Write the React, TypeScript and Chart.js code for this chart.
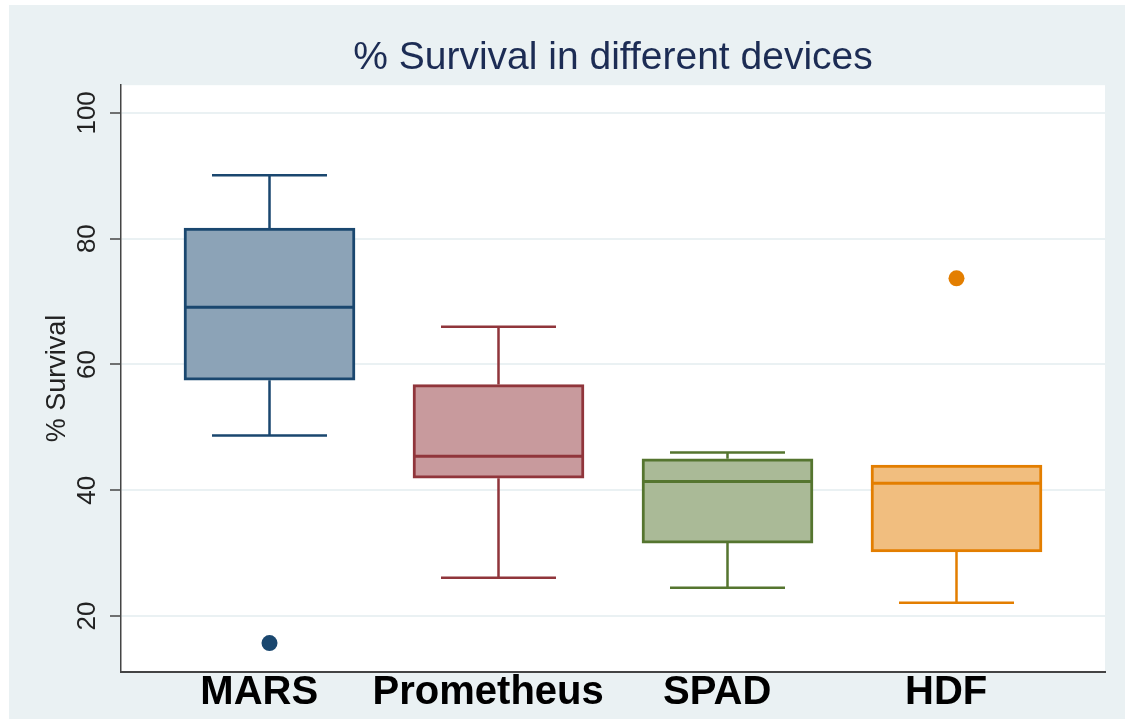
import React, { useEffect, useRef } from "react";
import { Chart, registerables } from "chart.js";

Chart.register(...registerables);

// ---- data ----
const CATEGORIES = ["MARS", "Prometheus", "SPAD", "HDF"];
const WHISKER_LOW = [48.7, 26.1, 24.5, 22.1];
const Q1 = [57.5, 41.9, 31.6, 30.2];
const MEDIAN = [69.1, 45.4, 41.4, 41.1];
const Q3 = [81.7, 56.8, 45.0, 44.0];
const WHISKER_HIGH = [90.1, 66.0, 46.0, 44.0];
const OUTLIER_GROUP = [0, 3];
const OUTLIER_VALUE = [15.7, 73.7];
const Y_TICKS = [20, 40, 60, 80, 100];

// ---- styles ----
const LINE_COLORS = ["#1a476f", "#90353b", "#55752f", "#e37e00"];
const FILL_COLORS = ["#8ca3b7", "#c89a9d", "#aaba97", "#f1be7f"];
const OUTER_BG = "#eaf1f3";
const BOX_WIDTH = 171;
const CAP_WIDTH = 115;
const LABEL_SHIFT = -0.045;

const bgPlugin = {
  id: "bgPlugin",
  beforeDraw(chart: any) {
    const { ctx, chartArea, width, height } = chart;
    ctx.save();
    ctx.fillStyle = "#ffffff";
    ctx.fillRect(0, 0, width, height);
    ctx.fillStyle = OUTER_BG;
    ctx.fillRect(9, 5, width - 9, height - 5);
    ctx.fillStyle = "#ffffff";
    ctx.fillRect(chartArea.left, chartArea.top, chartArea.right - chartArea.left, chartArea.bottom - chartArea.top);
    ctx.restore();
  },
};

const whiskerPlugin = {
  id: "whiskerPlugin",
  beforeDatasetsDraw(chart: any) {
    const { ctx, scales } = chart;
    const xs = scales.x;
    const ys = scales.y;
    ctx.save();
    ctx.lineWidth = 2.5;
    CATEGORIES.forEach((_, i) => {
      const cx = xs.getPixelForValue(i);
      ctx.strokeStyle = LINE_COLORS[i];
      const yHi = ys.getPixelForValue(WHISKER_HIGH[i]);
      const yQ3 = ys.getPixelForValue(Q3[i]);
      const yQ1 = ys.getPixelForValue(Q1[i]);
      const yLo = ys.getPixelForValue(WHISKER_LOW[i]);
      ctx.beginPath();
      if (WHISKER_HIGH[i] > Q3[i]) {
        ctx.moveTo(cx, yQ3);
        ctx.lineTo(cx, yHi);
        ctx.moveTo(cx - CAP_WIDTH / 2, yHi);
        ctx.lineTo(cx + CAP_WIDTH / 2, yHi);
      }
      if (WHISKER_LOW[i] < Q1[i]) {
        ctx.moveTo(cx, yQ1);
        ctx.lineTo(cx, yLo);
        ctx.moveTo(cx - CAP_WIDTH / 2, yLo);
        ctx.lineTo(cx + CAP_WIDTH / 2, yLo);
      }
      ctx.stroke();
    });
    ctx.restore();
  },
  afterDatasetsDraw(chart: any) {
    const { ctx, scales } = chart;
    const xs = scales.x;
    const ys = scales.y;
    ctx.save();
    ctx.lineWidth = 3;
    CATEGORIES.forEach((_, i) => {
      const cx = xs.getPixelForValue(i);
      const ym = ys.getPixelForValue(MEDIAN[i]);
      ctx.strokeStyle = LINE_COLORS[i];
      ctx.beginPath();
      ctx.moveTo(cx - BOX_WIDTH / 2 + 1.5, ym);
      ctx.lineTo(cx + BOX_WIDTH / 2 - 1.5, ym);
      ctx.stroke();
    });
    ctx.restore();
  },
};

export default function App() {
  const canvasRef = useRef<HTMLCanvasElement | null>(null);

  useEffect(() => {
    if (!canvasRef.current) return;
    const boxData = CATEGORIES.map((_, i) => ({ x: i, y: [Q1[i], Q3[i]] }));
    const outlierData = OUTLIER_GROUP.map((g, k) => ({ x: g, y: OUTLIER_VALUE[k] }));
    const chart = new Chart(canvasRef.current, {
      type: "bar",
      data: {
        datasets: [
          {
            type: "bar",
            data: boxData as any,
            backgroundColor: FILL_COLORS,
            borderColor: LINE_COLORS,
            borderWidth: 3,
            borderSkipped: false,
            barThickness: BOX_WIDTH,
            order: 2,
          } as any,
          {
            type: "scatter",
            data: outlierData as any,
            pointRadius: 8,
            pointBackgroundColor: OUTLIER_GROUP.map((g) => LINE_COLORS[g]),
            pointBorderColor: OUTLIER_GROUP.map((g) => LINE_COLORS[g]),
            pointBorderWidth: 0,
            order: 1,
          } as any,
        ],
      },
      options: {
        responsive: false,
        animation: false,
        layout: { padding: { top: 0, left: 0, right: 20, bottom: 0 } },
        plugins: {
          legend: { display: false },
          tooltip: { enabled: false },
          title: {
            display: true,
            text: "% Survival in different devices",
            fullSize: false,
            color: "#1c2c54",
            font: { family: "'Liberation Sans', Arial, sans-serif", size: 39, weight: "normal" },
            padding: { top: 35, bottom: 3.4 },
          },
        },
        scales: {
          x: {
            type: "linear",
            offset: false,
            min: -0.6485,
            max: 3.6485,
            afterBuildTicks: (scale: any) => {
              scale.ticks = CATEGORIES.map((_, i) => ({ value: i + LABEL_SHIFT }));
            },
            afterFit: (scale: any) => {
              scale.height = 47;
            },
            ticks: {
              autoSkip: false,
              minRotation: 0,
              maxRotation: 0,
              padding: -3,
              color: "#000000",
              font: { family: "'Liberation Sans', Arial, sans-serif", size: 40, weight: "bold" },
              callback: (_v: any, index: number) => CATEGORIES[index],
            },
            grid: { display: true, offset: false, color: "rgba(0,0,0,0)", drawTicks: false },
            border: { display: true, color: "#444444", width: 2 },
          },
          y: {
            type: "linear",
            min: 11.1,
            max: 104.4,
            afterBuildTicks: (scale: any) => {
              scale.ticks = Y_TICKS.map((v) => ({ value: v }));
            },
            afterFit: (scale: any) => {
              scale.width = 121;
            },
            ticks: {
              minRotation: 90,
              maxRotation: 90,
              crossAlign: "center",
              padding: 0,
              color: "#222222",
              font: { family: "'Liberation Sans', Arial, sans-serif", size: 26 },
            },
            grid: {
              color: OUTER_BG,
              lineWidth: 2,
              drawTicks: true,
              tickLength: 11,
              tickColor: "#444444",
              tickWidth: 1.5,
            },
            border: { display: true, color: "#444444", width: 1.5 },
            title: {
              display: true,
              text: "% Survival",
              color: "#222222",
              font: { family: "'Liberation Sans', Arial, sans-serif", size: 27 },
              padding: { top: 41, bottom: 0 },
            },
          },
        },
      },
      plugins: [bgPlugin, whiskerPlugin],
    } as any);
    return () => chart.destroy();
  }, []);

  return (
    <div style={{ position: "absolute", left: 0, top: 0, width: 1125, height: 719 }}>
      <canvas ref={canvasRef} width={1125} height={719} style={{ width: 1125, height: 719, display: "block" }} />
    </div>
  );
}
